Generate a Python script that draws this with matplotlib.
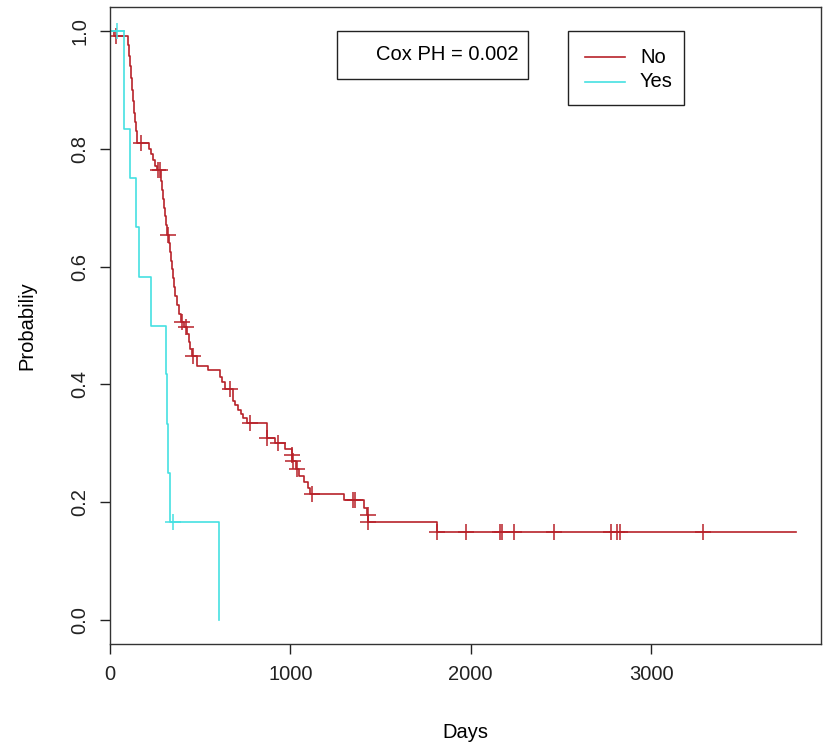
import matplotlib
matplotlib.use("Agg")
import matplotlib.pyplot as plt
from matplotlib.patches import Rectangle
import numpy as np

plt.rcParams['font.family'] = ['Liberation Sans', 'DejaVu Sans']

# Kaplan-Meier steps (time in days, survival after the step)
no_times = [0, 20, 100, 105, 110, 117, 122, 128, 133, 138, 144, 150,
            216, 228, 240, 252, 262, 280, 288, 295, 300, 306, 312, 318,
            325, 330, 336, 342, 348, 355, 362, 370, 380, 392, 410,
            428, 436, 444, 452, 485, 542, 609, 620, 636,
            680, 695, 710, 725, 740, 760, 868, 913, 968, 1007, 1010, 1030,
            1050, 1075, 1095, 1110, 1300, 1410, 1425, 1430, 1812, 3802]
no_surv = [1.0, 0.99, 0.975, 0.957, 0.94, 0.92, 0.90, 0.88, 0.86, 0.845, 0.83, 0.81,
           0.80, 0.79, 0.78, 0.77, 0.763, 0.745, 0.73, 0.715, 0.70, 0.685, 0.67, 0.654,
           0.64, 0.625, 0.61, 0.595, 0.58, 0.565, 0.55, 0.535, 0.52, 0.506, 0.498,
           0.485, 0.472, 0.46, 0.448, 0.431, 0.425, 0.412, 0.404, 0.392,
           0.372, 0.365, 0.356, 0.35, 0.343, 0.334, 0.31, 0.30, 0.29, 0.28, 0.27, 0.256,
           0.245, 0.235, 0.225, 0.215, 0.204, 0.19, 0.179, 0.167, 0.15, 0.15]
no_censor = [33, 172, 265, 275, 321, 398, 420, 459, 664, 775, 870, 930, 1007, 1012,
             1035, 1118, 1350, 1361, 1428, 1432, 1815, 1976, 2164, 2175, 2241,
             2463, 2778, 2811, 2828, 3287]

yes_times = [0, 77, 111, 144, 162, 227, 310, 316, 322, 330, 603]
yes_surv = [1.0, 0.833, 0.75, 0.667, 0.583, 0.5, 0.417, 0.333, 0.25, 0.167, 0.0]
yes_censor = [40, 349]

groups = ["No", "Yes"]
colors = ["#b8222a", "#45e0e2"]
cox_text = "Cox PH = 0.002"
fs = 14.5


def surv_at(times, surv, t):
    idx = np.searchsorted(times, t, side='right') - 1
    return np.asarray(surv)[idx]


fig = plt.figure(figsize=(8.23, 7.46), dpi=100)
ax = fig.add_axes([110 / 823, 1 - 644 / 746, 711 / 823, 637 / 746])

for times, surv, cens, col in [(no_times, no_surv, no_censor, colors[0]),
                               (yes_times, yes_surv, yes_censor, colors[1])]:
    ax.step(times, surv, where='post', color=col, lw=1.2)
    ax.plot(cens, surv_at(times, surv, cens), ls='none', marker='+',
            ms=11, mew=1.1, color=col)

ax.set_xlim(0, 3942)
ax.set_ylim(-0.04, 1.04)
ax.set_xticks([0, 1000, 2000, 3000])
ax.set_yticks([0.0, 0.2, 0.4, 0.6, 0.8, 1.0])
ax.set_yticklabels(["0.0", "0.2", "0.4", "0.6", "0.8", "1.0"], rotation=90, va='center')
ax.tick_params(direction='out', length=7, width=1, labelsize=fs, pad=8, colors='#222222')
for sp in ax.spines.values():
    sp.set_color('#333333')
    sp.set_linewidth(1)

ax.set_xlabel("Days", fontsize=fs, labelpad=28)
ax.set_ylabel("Probabiliy", fontsize=fs, labelpad=24)

# Cox PH box
ax.add_patch(Rectangle((0.3193, 0.887), 0.2686, 0.0754, transform=ax.transAxes,
                       fill=False, ec='#222222', lw=1, clip_on=False))
ax.text(0.5745, 0.9247, cox_text, transform=ax.transAxes, ha='right', va='center',
        fontsize=fs)

# group legend box
ax.add_patch(Rectangle((0.6442, 0.846), 0.1632, 0.1162, transform=ax.transAxes,
                       fill=False, ec='#222222', lw=1, clip_on=False))
for i, (lab, col) in enumerate(zip(groups, colors)):
    yy = 0.9215 - i * 0.0392
    ax.plot([0.6681, 0.7243], [yy, yy], transform=ax.transAxes, color=col, lw=1.2,
            clip_on=False)
    ax.text(0.7454, yy, lab, transform=ax.transAxes, ha='left', va='center', fontsize=fs)

fig.savefig("out.png", dpi=100)
